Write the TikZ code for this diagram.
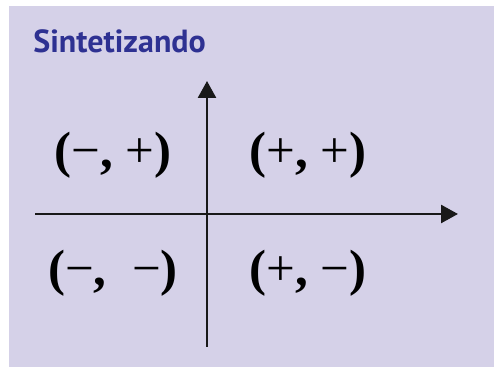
\documentclass[tikz,border=0pt]{standalone}
\usepackage{fontspec}
\newfontfamily\signfont{Liberation Serif}
\newfontfamily\titlefont[Ligatures=NoCommon]{PT Sans}
\usetikzlibrary{arrows.meta}
\definecolor{boxlilac}{HTML}{D5D1E8}
\definecolor{titleblue}{HTML}{2E3192}
\newcommand{\sinais}[2]{\textbf{(}#1\textbf{,}#2\textbf{)}}
\tikzset{
  axis/.style={
    -{Triangle[length=8.5pt, width=9pt]},
    line width=1.3pt,
    color=black!90
  },
  sign pair/.style={
    font=\signfont\fontsize{25.5}{28}\selectfont,
    inner sep=0pt
  },
  box title/.style={
    font=\titlefont\fontsize{16}{20}\selectfont\bfseries,
    color=titleblue,
    inner sep=0pt
  }
}

\begin{document}
\begin{tikzpicture}[x=0.5pt, y=-0.5pt]
    % fundo e margens
    \useasboundingbox (0, 0) rectangle (494, 367);
    \fill[boxlilac] (9, 6) rectangle (494, 367);

    % titulo
    \node[box title, anchor=base west] (titulo) at (33, 53) {Sintetizando};

    % eixos
    \coordinate (xini) at (35, 214);
    \coordinate (xfim) at (458, 214);
    \coordinate (yini) at (207, 347);
    \coordinate (yfim) at (207, 81);
    \draw[axis] (xini) -- (xfim);
    \draw[axis] (yini) -- (yfim);

    % sinais em cada quadrante
    \node[sign pair] (q2) at (113, 155) {\sinais{−}{ +}};
    \node[sign pair] (q1) at (308, 155) {\sinais{+}{ +}};
    \node[sign pair] (q3) at (113, 273) {\sinais{−}{\ \ −}};
    \node[sign pair] (q4) at (308, 273) {\sinais{+}{ −}};

\end{tikzpicture}
\end{document}
